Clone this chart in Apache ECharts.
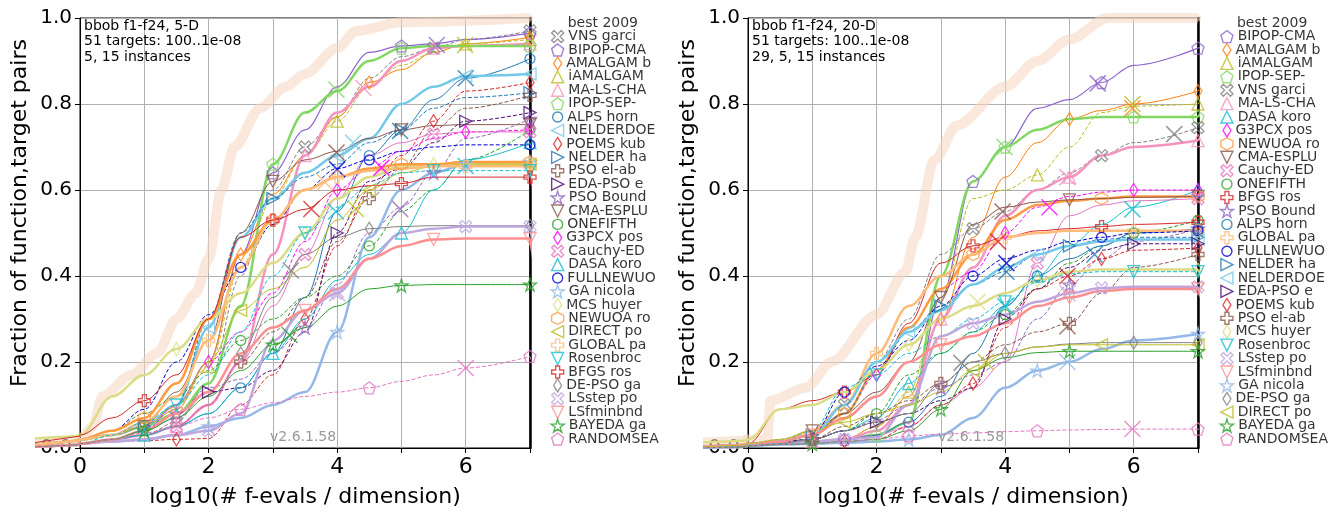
<!DOCTYPE html>
<html><head><meta charset="utf-8">
<script src="https://cdn.jsdelivr.net/npm/echarts@6/dist/echarts.min.js"></script>
<style>html,body{margin:0;padding:0;background:#fff}#c{width:1328px;height:513px}</style>
</head><body><div id="c"></div>
<script>
// ---------- DATA ----------
const X = [-0.7,0,0.5,1,1.5,2,2.5,3,3.5,4,4.5,5,5.5,6,7];

// 5-D panel (legend order)
const names5 = ["VNS garci","BIPOP-CMA","AMALGAM b","iAMALGAM","MA-LS-CHA","IPOP-SEP-","ALPS horn","NELDERDOE","POEMS kub","NELDER ha","PSO el-ab","EDA-PSO e","PSO Bound","CMA-ESPLU","ONEFIFTH","G3PCX pos","Cauchy-ED","DASA koro","FULLNEWUO","GA nicola","MCS huyer","NEWUOA ro","DIRECT po","GLOBAL pa","Rosenbroc","BFGS ros","DE-PSO ga","LSstep po","LSfminbnd","BAYEDA ga","RANDOMSEA"];
const best5x = [-0.7,0,0.2,0.35,0.8,1.2,1.5,1.8,2.0,2.2,2.4,2.8,3.2,3.5,4.0,4.3,5.0,7.0];
const best5y = [0.015,0.02,0.05,0.12,0.17,0.22,0.30,0.36,0.44,0.60,0.70,0.79,0.84,0.87,0.93,0.97,0.99,1.0];
const vns5 = [0.005,0.01,0.02,0.03,0.06,0.15,0.40,0.60,0.70,0.77,0.86,0.91,0.93,0.95,0.97];
const bipop5 = [0.01,0.02,0.03,0.05,0.10,0.20,0.45,0.64,0.74,0.84,0.92,0.935,0.94,0.95,0.965];
const amalgam5 = [0.01,0.02,0.03,0.05,0.09,0.20,0.45,0.59,0.68,0.77,0.85,0.88,0.92,0.94,0.955];
const iamalgam5 = [0.01,0.02,0.03,0.05,0.09,0.19,0.42,0.58,0.68,0.76,0.84,0.89,0.92,0.94,0.95];
const malsch5 = [0.005,0.01,0.02,0.03,0.05,0.10,0.20,0.45,0.68,0.78,0.84,0.90,0.93,0.935,0.94];
const ipop5 = [0.01,0.02,0.03,0.05,0.08,0.15,0.33,0.66,0.78,0.83,0.90,0.93,0.935,0.935,0.935];
const alps5 = [0.005,0.01,0.02,0.03,0.05,0.08,0.14,0.22,0.35,0.55,0.68,0.74,0.81,0.86,0.905];
const nelderdoe5 = [0.01,0.02,0.03,0.05,0.10,0.28,0.49,0.58,0.64,0.68,0.72,0.80,0.84,0.865,0.87];
const poems5 = [0.005,0.01,0.015,0.017,0.02,0.022,0.10,0.17,0.30,0.47,0.60,0.68,0.76,0.83,0.85];
const nelderha5 = [0.01,0.02,0.03,0.05,0.10,0.30,0.50,0.58,0.63,0.66,0.71,0.74,0.79,0.815,0.826];
const psoel5 = [0.005,0.01,0.02,0.03,0.05,0.10,0.20,0.27,0.35,0.48,0.58,0.65,0.74,0.79,0.82];
const edapso5 = [0.005,0.01,0.02,0.04,0.08,0.13,0.14,0.18,0.27,0.50,0.62,0.65,0.71,0.76,0.78];
const psobound5 = [0.005,0.01,0.02,0.04,0.08,0.14,0.16,0.22,0.28,0.38,0.50,0.56,0.64,0.72,0.765];
const cmaesplu5 = [0.01,0.02,0.03,0.05,0.13,0.25,0.50,0.62,0.67,0.69,0.72,0.74,0.75,0.752,0.752];
const onefifth5 = [0.01,0.02,0.04,0.08,0.12,0.18,0.25,0.30,0.35,0.40,0.47,0.55,0.60,0.67,0.74];
const g3pcx5 = [0.005,0.01,0.02,0.04,0.10,0.20,0.27,0.36,0.48,0.60,0.65,0.69,0.72,0.735,0.74];
const cauchy5 = [0.005,0.01,0.02,0.03,0.05,0.10,0.20,0.33,0.45,0.58,0.68,0.71,0.73,0.735,0.735];
const dasa5 = [0.005,0.01,0.02,0.03,0.05,0.08,0.14,0.22,0.30,0.39,0.45,0.50,0.60,0.67,0.71];
const fullnewuo5 = [0.01,0.02,0.04,0.09,0.20,0.31,0.42,0.52,0.60,0.65,0.67,0.69,0.70,0.705,0.705];
const ga5 = [0.005,0.01,0.015,0.02,0.03,0.05,0.07,0.10,0.13,0.27,0.49,0.60,0.64,0.66,0.665];
const mcs5 = [0.025,0.03,0.12,0.17,0.23,0.30,0.36,0.43,0.50,0.58,0.63,0.655,0.66,0.66,0.66];
const newuoa5 = [0.01,0.02,0.04,0.07,0.15,0.30,0.45,0.53,0.60,0.63,0.65,0.66,0.66,0.665,0.665];
const direct5 = [0.01,0.02,0.03,0.05,0.10,0.20,0.32,0.37,0.42,0.53,0.60,0.64,0.655,0.66,0.66];
const global5 = [0.01,0.02,0.03,0.06,0.12,0.25,0.42,0.53,0.60,0.63,0.645,0.65,0.655,0.655,0.655];
const rosen5 = [0.005,0.01,0.03,0.06,0.10,0.17,0.27,0.40,0.50,0.56,0.61,0.64,0.645,0.645,0.645];
const bfgs5 = [0.015,0.03,0.07,0.11,0.17,0.30,0.49,0.53,0.555,0.60,0.61,0.615,0.63,0.63,0.63];
const depso5 = [0.005,0.01,0.02,0.04,0.07,0.13,0.22,0.35,0.45,0.49,0.51,0.515,0.517,0.517,0.517];
const lsstep5 = [0.005,0.01,0.015,0.02,0.03,0.04,0.08,0.25,0.32,0.36,0.44,0.50,0.51,0.515,0.515];
const lsfmin5 = [0.005,0.01,0.02,0.04,0.08,0.13,0.22,0.28,0.32,0.37,0.44,0.47,0.485,0.487,0.487];
const bayeda5 = [0.005,0.01,0.02,0.04,0.07,0.12,0.18,0.24,0.28,0.33,0.37,0.378,0.38,0.38,0.38];
const random5 = [0.005,0.01,0.02,0.035,0.05,0.07,0.09,0.105,0.12,0.13,0.14,0.155,0.17,0.186,0.213];
const cross5 = [null,[5.55,0.937],null,[5.99,0.937],[4.41,0.837],[3.99,0.833],[6.0,0.86],[4.25,0.71],null,[4.98,0.737],null,null,[4.98,0.556],[3.99,0.687],null,[4.69,0.652],null,[6.0,0.656],[4.0,0.648],null,null,null,[4.29,0.556],[3.81,0.618],[3.98,0.55],[3.6,0.556],[3.28,0.413],[4.0,0.36],null,[3.26,0.263],[6.0,0.186]];

// 20-D panel (legend order)
const names20 = ["BIPOP-CMA","AMALGAM b","iAMALGAM","IPOP-SEP-","VNS garci","MA-LS-CHA","DASA koro","G3PCX pos","NEWUOA ro","CMA-ESPLU","Cauchy-ED","ONEFIFTH","BFGS ros","PSO Bound","ALPS horn","GLOBAL pa","FULLNEWUO","NELDER ha","NELDERDOE","EDA-PSO e","POEMS kub","PSO el-ab","MCS huyer","Rosenbroc","LSstep po","LSfminbnd","GA nicola","DE-PSO ga","DIRECT po","BAYEDA ga","RANDOMSEA"];
const best20x = [-0.7,0,0.3,0.35,0.9,1.3,2.0,2.45,2.6,2.9,3.25,4.0,4.5,5.0,5.6,7];
const best20y = [0.015,0.02,0.02,0.11,0.14,0.20,0.31,0.41,0.49,0.67,0.75,0.84,0.90,0.95,1.0,1.0];
const bipop20 = [0.003,0.005,0.01,0.015,0.02,0.03,0.06,0.35,0.62,0.70,0.79,0.81,0.85,0.89,0.93];
const amalgam20 = [0.005,0.01,0.01,0.015,0.02,0.05,0.12,0.30,0.49,0.63,0.71,0.765,0.785,0.80,0.83];
const iamalgam20 = [0.005,0.01,0.01,0.015,0.02,0.05,0.13,0.35,0.58,0.60,0.635,0.70,0.78,0.795,0.80];
const ipop20 = [0.003,0.005,0.01,0.015,0.02,0.03,0.06,0.40,0.62,0.70,0.74,0.765,0.77,0.77,0.77];
const vns20 = [0.005,0.01,0.02,0.04,0.10,0.20,0.30,0.45,0.51,0.55,0.60,0.64,0.68,0.71,0.745];
const malsch20 = [0.003,0.005,0.01,0.015,0.02,0.04,0.10,0.30,0.42,0.54,0.60,0.63,0.68,0.70,0.715];
const dasa20 = [0.005,0.01,0.015,0.02,0.04,0.07,0.15,0.22,0.27,0.33,0.40,0.47,0.52,0.56,0.60];
const g3pcx20 = [0.003,0.005,0.01,0.03,0.08,0.17,0.28,0.37,0.41,0.50,0.56,0.585,0.595,0.60,0.60];
const newuoa20 = [0.005,0.01,0.015,0.03,0.08,0.18,0.28,0.37,0.45,0.53,0.565,0.575,0.58,0.585,0.585];
const cmaesplu20 = [0.005,0.01,0.015,0.04,0.08,0.13,0.20,0.35,0.52,0.56,0.572,0.577,0.58,0.583,0.585];
const cauchy20 = [0.003,0.005,0.01,0.015,0.02,0.03,0.05,0.10,0.14,0.20,0.43,0.54,0.565,0.575,0.58];
const onefifth20 = [0.005,0.01,0.015,0.02,0.04,0.08,0.17,0.22,0.27,0.31,0.37,0.43,0.47,0.50,0.53];
const bfgs20 = [0.008,0.01,0.09,0.11,0.13,0.17,0.29,0.43,0.47,0.49,0.505,0.51,0.515,0.52,0.525];
const psobound20 = [0.003,0.005,0.01,0.02,0.04,0.065,0.10,0.14,0.17,0.20,0.30,0.38,0.44,0.48,0.51];
const alps20 = [0.003,0.005,0.01,0.015,0.02,0.03,0.06,0.12,0.22,0.33,0.40,0.44,0.47,0.50,0.51];
const global20 = [0.005,0.01,0.015,0.04,0.10,0.22,0.33,0.40,0.45,0.49,0.50,0.505,0.505,0.505,0.505];
const fullnewuo20 = [0.003,0.005,0.01,0.03,0.13,0.19,0.25,0.33,0.40,0.44,0.46,0.48,0.49,0.50,0.505];
const nelderha20 = [0.005,0.01,0.015,0.03,0.08,0.18,0.27,0.33,0.38,0.41,0.45,0.47,0.485,0.49,0.49];
const nelderdoe20 = [0.005,0.01,0.015,0.03,0.10,0.20,0.27,0.32,0.38,0.42,0.45,0.47,0.48,0.485,0.485];
const edapso20 = [0.005,0.01,0.015,0.02,0.04,0.06,0.08,0.11,0.14,0.30,0.37,0.42,0.46,0.475,0.475];
const poems20 = [0.003,0.005,0.008,0.01,0.015,0.02,0.05,0.10,0.15,0.28,0.37,0.40,0.44,0.46,0.465];
const psoel20 = [0.003,0.005,0.01,0.02,0.05,0.08,0.11,0.15,0.20,0.24,0.27,0.29,0.36,0.42,0.45];
const mcs20 = [0.015,0.02,0.09,0.10,0.13,0.18,0.24,0.30,0.33,0.36,0.39,0.41,0.415,0.415,0.415];
const rosen20 = [0.005,0.01,0.015,0.04,0.14,0.17,0.22,0.26,0.30,0.34,0.385,0.405,0.41,0.41,0.41];
const lsstep20 = [0.003,0.005,0.01,0.015,0.02,0.025,0.10,0.26,0.29,0.31,0.34,0.36,0.372,0.375,0.375];
const lsfmin20 = [0.005,0.01,0.015,0.03,0.07,0.12,0.20,0.24,0.26,0.29,0.33,0.35,0.365,0.37,0.37];
const ga20 = [0.003,0.005,0.008,0.01,0.012,0.015,0.02,0.03,0.07,0.14,0.18,0.20,0.23,0.25,0.265];
const depso20 = [0.003,0.005,0.01,0.02,0.04,0.06,0.08,0.15,0.20,0.22,0.235,0.242,0.245,0.245,0.245];
const direct20 = [0.005,0.01,0.02,0.04,0.06,0.08,0.10,0.13,0.18,0.22,0.235,0.24,0.24,0.24,0.24];
const bayeda20 = [0.003,0.005,0.008,0.01,0.015,0.02,0.04,0.09,0.18,0.21,0.222,0.225,0.225,0.225,0.225];
const random20 = [0.003,0.005,0.008,0.01,0.015,0.02,0.028,0.032,0.035,0.038,0.04,0.042,0.043,0.044,0.044];
const cross20 = [[5.44,0.848],[5.98,0.79],[5.98,0.80],[3.99,0.70],[6.63,0.73],[4.97,0.63],[5.98,0.555],[4.69,0.56],null,[3.96,0.55],null,null,[3.89,0.48],null,[5.39,0.45],null,[4.02,0.43],[4.02,0.41],null,null,[4.97,0.40],[4.97,0.283],[3.57,0.34],[4.0,0.33],[4.97,0.36],null,[4.97,0.2],[3.32,0.198],[3.7,0.2],null,[5.98,0.044]];

const curves5 = [vns5,bipop5,amalgam5,iamalgam5,malsch5,ipop5,alps5,nelderdoe5,poems5,nelderha5,psoel5,edapso5,psobound5,cmaesplu5,onefifth5,g3pcx5,cauchy5,dasa5,fullnewuo5,ga5,mcs5,newuoa5,direct5,global5,rosen5,bfgs5,depso5,lsstep5,lsfmin5,bayeda5,random5];
const curves20 = [bipop20,amalgam20,iamalgam20,ipop20,vns20,malsch20,dasa20,g3pcx20,newuoa20,cmaesplu20,cauchy20,onefifth20,bfgs20,psobound20,alps20,global20,fullnewuo20,nelderha20,nelderdoe20,edapso20,poems20,psoel20,mcs20,rosen20,lsstep20,lsfmin20,ga20,depso20,direct20,bayeda20,random20];

// ---------- STYLES ----------
const STY = {
"VNS garci":{c:'#808080',d:true,w:1,s:'xc'},
"BIPOP-CMA":{c:'#8e63ce',d:false,w:1.2,s:'pent'},
"AMALGAM b":{c:'#ff7f0e',d:false,w:1,s:'dia'},
"iAMALGAM":{c:'#bcbd22',d:true,w:1,s:'tri'},
"MA-LS-CHA":{c:'#f592c0',d:false,w:2.5,s:'tri'},
"IPOP-SEP-":{c:'#80d862',d:false,w:2.5,s:'pent'},
"ALPS horn":{c:'#1f77b4',d:false,w:1,s:'circ'},
"NELDERDOE":{c:'#74c8e8',d:false,w:2.5,s:'tril'},
"POEMS kub":{c:'#d62728',d:true,w:1,s:'dia'},
"NELDER ha":{c:'#1f77b4',d:true,w:1,s:'trir'},
"PSO el-ab":{c:'#8c564b',d:true,w:1,s:'plus'},
"EDA-PSO e":{c:'#4b0a72',d:true,w:1,s:'trir'},
"PSO Bound":{c:'#9467bd',d:true,w:1,s:'star'},
"CMA-ESPLU":{c:'#8c564b',d:false,w:1,s:'trid'},
"ONEFIFTH":{c:'#2ca02c',d:true,w:1,s:'circ'},
"G3PCX pos":{c:'#ff00ff',d:true,w:1,s:'dia'},
"Cauchy-ED":{c:'#e377c2',d:false,w:1,s:'xc'},
"DASA koro":{c:'#17becf',d:false,w:1,s:'tri'},
"FULLNEWUO":{c:'#0000cd',d:true,w:1,s:'circ'},
"GA nicola":{c:'#94b8e8',d:false,w:2.5,s:'star'},
"MCS huyer":{c:'#dcdc84',d:false,w:2.5,s:'dia'},
"NEWUOA ro":{c:'#ff9a40',d:false,w:2.5,s:'hex'},
"DIRECT po":{c:'#bcbd22',d:false,w:1,s:'tril'},
"GLOBAL pa":{c:'#ffbb78',d:false,w:2.5,s:'plus'},
"Rosenbroc":{c:'#17becf',d:true,w:1,s:'trid'},
"BFGS ros":{c:'#d62728',d:false,w:1,s:'plus'},
"DE-PSO ga":{c:'#7f7f7f',d:false,w:1,s:'dia'},
"LSstep po":{c:'#c0a6de',d:false,w:2.5,s:'xc'},
"LSfminbnd":{c:'#ff8f8f',d:false,w:2.5,s:'trid'},
"BAYEDA ga":{c:'#2ca02c',d:false,w:1,s:'star'},
"RANDOMSEA":{c:'#e377c2',d:true,w:1,s:'pent'}
};
const SYM = {
 pent:'path://M0,-1L0.951,-0.309L0.588,0.809L-0.588,0.809L-0.951,-0.309Z',
 tri:'path://M0,-1L1,1L-1,1Z',
 trid:'path://M-1,-1L1,-1L0,1Z',
 tril:'path://M1,-1L1,1L-1,0Z',
 trir:'path://M-1,-1L-1,1L1,0Z',
 dia:'path://M0,-1L1,0L0,1L-1,0Z',
 circ:'circle',
 hex:'path://M0,-1L0.866,-0.5L0.866,0.5L0,1L-0.866,0.5L-0.866,-0.5Z',
 star:'path://M0,-1L0.2245,-0.309L0.951,-0.309L0.363,0.118L0.588,0.809L0,0.382L-0.588,0.809L-0.363,0.118L-0.951,-0.309L-0.2245,-0.309Z',
 plus:'path://M-0.33,-1L0.33,-1L0.33,-0.33L1,-0.33L1,0.33L0.33,0.33L0.33,1L-0.33,1L-0.33,0.33L-1,0.33L-1,-0.33L-0.33,-0.33Z',
 xc:'path://M-1,-0.6L-0.6,-1L0,-0.4L0.6,-1L1,-0.6L0.4,0L1,0.6L0.6,1L0,0.4L-0.6,1L-1,0.6L-0.4,0Z',
 x:'path://M-1,-1L1,1M1,-1L-1,1'
};
const SIZE = {pent:12,tri:12,trid:12,tril:12,trir:12,dia:[8,13],circ:10,hex:12,star:13,plus:12,xc:12,x:16};
const FONT = 'DejaVu Sans';
const BEST = '#f4d6bd';

function mk(s,c,bw){
  return {symbol:SYM[s], symbolSize:SIZE[s], itemStyle:{color:'rgba(255,255,255,0)', borderColor:c, borderWidth:bw||1.3}};
}

// gi: main axis index, yi: main y index, si: stub x index, syi: stub y index
function panel(gi, yi, si, syi, names, curves, bx, by, crosses, legX){
  const series = [];
  const bestLs = {color:BEST, width:10, opacity:0.55};
  series.push({type:'line', xAxisIndex:gi, yAxisIndex:yi, data:bx.map((v,i)=>[v,by[i]]), clip:false,
    showSymbol:false, smooth:0.3, smoothMonotone:'x', z:1, silent:true, lineStyle:bestLs});
  series.push({type:'line', xAxisIndex:si, yAxisIndex:syi, data:[[bx[0],by[0]],[bx[1],by[1]]],
    showSymbol:false, z:1, silent:true, lineStyle:bestLs});
  const legY = i => 0.988 - i*0.0312;
  series.push({type:'line', xAxisIndex:gi, yAxisIndex:yi, clip:false, silent:true, z:1,
    data:[[7,by[by.length-1]],[legX,legY(0)]], showSymbol:false,
    lineStyle:{color:BEST, width:6, opacity:0.55}});
  const marks = [];
  const legend = [{value:[legX,legY(0)], symbol:'circle', symbolSize:12,
     itemStyle:{color:'rgba(0,0,0,0)'}, label:{show:true, formatter:'best 2009'}}];
  const last = X.length-1;
  names.forEach((n,i)=>{
    const st = STY[n]; const arr = curves[i];
    const ls = {color:st.c, width:st.w, type: st.d ? [4,2] : 'solid'};
    series.push({type:'line', xAxisIndex:gi, yAxisIndex:yi, silent:true, z:2,
      data:X.map((x,k)=>[x,arr[k]]), showSymbol:false, smooth:0.35, smoothMonotone:'x', lineStyle:ls});
    series.push({type:'line', xAxisIndex:si, yAxisIndex:syi, silent:true, z:2,
      data:[[X[0],arr[0]],[X[1],arr[1]]], showSymbol:false, lineStyle:ls});
    series.push({type:'line', xAxisIndex:gi, yAxisIndex:yi, silent:true, z:2, clip:false,
      data:[[7,arr[last]],[legX,legY(i+1)]], showSymbol:false, lineStyle:ls});
    for (let k=3;k<last;k++){
      if ((k+i)%4===0) marks.push(Object.assign({value:[X[k],arr[k]]}, mk(st.s,st.c)));
    }
    marks.push(Object.assign({value:[X[last],arr[last]]}, mk(st.s,st.c)));
    if (crosses[i]) marks.push(Object.assign({value:crosses[i]}, mk('x',st.c,1.5)));
    legend.push(Object.assign({value:[legX,legY(i+1)], label:{show:true, formatter:n}}, mk(st.s,st.c,1.4)));
  });
  series.push({type:'scatter', xAxisIndex:gi, yAxisIndex:yi, silent:true, z:4, data:marks});
  series.push({type:'scatter', xAxisIndex:gi, yAxisIndex:yi, silent:true, z:4, clip:false, data:legend,
    label:{position:'right', distance:4, color:'#000', fontSize:14, fontFamily:FONT}});
  return series;
}

function xAx(gi){
  return {type:'value', gridIndex:gi, min:0, max:7, interval:1,
    name:'log10(# f-evals / dimension)', nameLocation:'middle', nameGap:38,
    nameTextStyle:{fontSize:22, color:'#000', fontFamily:FONT},
    axisLine:{show:true, onZero:false, lineStyle:{color:'#000', width:1}},
    axisTick:{show:true, length:5, lineStyle:{color:'#000'}},
    axisLabel:{fontSize:22, color:'#000', fontFamily:FONT, margin:8,
      formatter:v=> (v%2===0 ? String(v) : '')},
    splitLine:{show:true, lineStyle:{color:'#b0b0b0', width:1}}};
}
function yAx(gi){
  return {type:'value', gridIndex:gi, min:0, max:1, interval:0.2,
    axisLine:{show:true, onZero:false, lineStyle:{color:'#000', width:1}},
    axisTick:{show:true, length:5, lineStyle:{color:'#000'}},
    axisLabel:{fontSize:20, color:'#000', fontFamily:FONT, margin:8, formatter:v=>v.toFixed(1)},
    splitLine:{show:true, lineStyle:{color:'#b0b0b0', width:1}}};
}
function yRight(gi){
  return {type:'value', gridIndex:gi, min:0, max:1, position:'right',
    axisLine:{show:true, onZero:false, lineStyle:{color:'#000', width:2.5}},
    axisTick:{show:false}, axisLabel:{show:false}, splitLine:{show:false}};
}
const hidX = gi => ({type:'value', gridIndex:gi, min:-0.7, max:0, show:false});
const hidY = gi => ({type:'value', gridIndex:gi, min:0, max:1, show:false});

const chart = echarts.init(document.getElementById('c'), null, {renderer:'canvas'});
const txt = (l,t,s)=>({type:'text', left:l, top:t, silent:true, z:10,
  style:{text:s, font:'14px "DejaVu Sans"', fill:'#000', lineHeight:15.2}});
const ytitle = (x)=>({type:'text', x:x, y:213, rotation:Math.PI/2, silent:true, z:10,
  style:{text:'Fraction of function,target pairs', font:'22px "DejaVu Sans"', fill:'#000', align:'center', verticalAlign:'middle'}});
chart.setOption({
  animation:false,
  backgroundColor:'#fff',
  grid:[
    {left:80, top:18, width:450, height:431, show:true, borderColor:'#000', borderWidth:1, backgroundColor:'#fff'},
    {left:748, top:18, width:450, height:431, show:true, borderColor:'#000', borderWidth:1, backgroundColor:'#fff'},
    {left:35, top:18, width:45, height:431},
    {left:703, top:18, width:45, height:431}
  ],
  xAxis:[xAx(0), xAx(1), hidX(2), hidX(3)],
  yAxis:[yAx(0), yRight(0), yAx(1), yRight(1), hidY(2), hidY(3)],
  series: panel(0,0,2,4,names5,curves5,best5x,best5y,cross5,7.43).concat(
          panel(1,2,3,5,names20,curves20,best20x,best20y,cross20,7.45)),
  graphic:[
    txt(84,19,'bbob f1-f24, 5-D\n51 targets: 100..1e-08\n5, 15 instances'),
    txt(752,19,'bbob f1-f24, 20-D\n51 targets: 100..1e-08\n29, 5, 15 instances'),
    ytitle(20), ytitle(688),
    {type:'text', left:270, top:430, silent:true, z:10, style:{text:'v2.6.1.58', font:'14px "DejaVu Sans"', fill:'#999'}},
    {type:'text', left:938, top:430, silent:true, z:10, style:{text:'v2.6.1.58', font:'14px "DejaVu Sans"', fill:'#999'}}
  ]
});
</script></body></html>
